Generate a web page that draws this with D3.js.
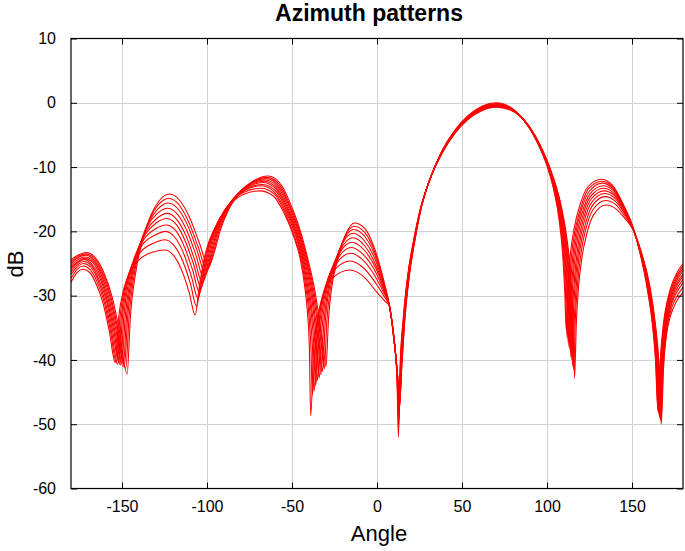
<!DOCTYPE html>
<html><head><meta charset="utf-8">
<script src="https://cdn.jsdelivr.net/npm/d3@7"></script>
<style>body{margin:0;background:#fff}svg{display:block}text{font-family:"Liberation Sans",Arial,sans-serif}</style>
</head><body><div id="chart"></div>
<script>
// ---- data: each row = one feature point, columns = the 10 pattern curves ----
const xTicks = [-150,-100,-50,0,50,100,150];
const yTicks = [10,0,-10,-20,-30,-40,-50,-60];

const lobeA_ang = [
 [-180,-180,-180,-180,-180,-180,-180,-180,-180,-180],
 [-175,-175.1,-175.2,-175.3,-175.4,-175.6,-175.7,-175.8,-175.9,-176],
 [-171,-171.2,-171.4,-171.7,-171.9,-172.1,-172.3,-172.6,-172.8,-173],
 [-166,-166.3,-166.7,-167,-167.3,-167.7,-168,-168.3,-168.7,-169],
 [-161,-161.4,-161.9,-162.3,-162.8,-163.2,-163.7,-164.1,-164.6,-165],
 [-156,-156.6,-157.1,-157.7,-158.2,-158.8,-159.3,-159.9,-160.4,-161],
 [-151.5,-152.2,-152.8,-153.5,-154.2,-154.8,-155.5,-156.2,-156.8,-157.5],
 [-147,-147.8,-148.6,-149.3,-150.1,-150.9,-151.7,-152.4,-153.2,-154]
];
const lobeA_db = [
 [-24.4,-24.7,-25.0,-25.3,-25.6,-25.9,-26.3,-26.7,-27.3,-27.9],
 [-23.6,-23.8,-24.0,-24.3,-24.6,-24.8,-25.1,-25.4,-25.8,-26.3],
 [-23.3,-23.5,-23.7,-24.0,-24.2,-24.4,-24.7,-25.0,-25.4,-25.9],
 [-24.0,-24.2,-24.4,-24.6,-24.8,-25.1,-25.3,-25.6,-26.0,-26.4],
 [-26.2,-26.4,-26.5,-26.7,-26.9,-27.1,-27.4,-27.6,-27.9,-28.3],
 [-30.0,-30.1,-30.2,-30.3,-30.5,-30.6,-30.7,-30.9,-31.1,-31.3],
 [-35.5,-35.5,-35.5,-35.5,-35.5,-35.5,-35.5,-35.5,-35.5,-35.5],
 [-42.2,-41.3,-40.9,-41.1,-40.6,-40.8,-40.4,-40.7,-40.5,-40.4]
];
const lobeB_ang = [
 [-145,-145.8,-146.6,-147.3,-148.1,-148.9,-149.7,-150.4,-151.2,-152],
 [-142,-142.8,-143.6,-144.3,-145.1,-145.9,-146.7,-147.4,-148.2,-149],
 [-138,-138.8,-139.6,-140.3,-141.1,-141.9,-142.7,-143.4,-144.2,-145],
 [-133,-133.7,-134.3,-135,-135.7,-136.3,-137,-137.7,-138.3,-139],
 [-128,-128.4,-128.8,-129.2,-129.6,-129.9,-130.3,-130.7,-131.1,-131.5],
 [-122,-122.3,-122.7,-123,-123.3,-123.7,-124,-124.3,-124.7,-125],
 [-116,-116.4,-116.8,-117.2,-117.6,-117.9,-118.3,-118.7,-119.1,-119.5],
 [-110,-110.5,-111,-111.5,-112,-112.5,-113,-113.5,-114,-114.5],
 [-104.5,-105.2,-105.8,-106.5,-107.2,-107.8,-108.5,-109.2,-109.8,-110.5],
 [-99,-99.9,-100.8,-101.7,-102.6,-103.4,-104.3,-105.2,-106.1,-107]
];
const lobeB_db = [
 [-33.0,-33.1,-33.1,-33.1,-33.2,-33.2,-33.3,-33.3,-33.4,-33.5],
 [-26.5,-26.7,-26.9,-27.1,-27.4,-27.6,-27.9,-28.2,-28.6,-29.0],
 [-21.5,-21.9,-22.3,-22.7,-23.2,-23.6,-24.1,-24.7,-25.4,-26.2],
 [-17.5,-18.0,-18.6,-19.2,-19.9,-20.5,-21.2,-22.0,-23.0,-24.2],
 [-15.2,-15.8,-16.5,-17.2,-18.0,-18.7,-19.6,-20.6,-21.8,-23.2],
 [-14.2,-14.9,-15.6,-16.4,-17.2,-18.0,-19.0,-20.0,-21.3,-22.9],
 [-15.2,-15.9,-16.6,-17.4,-18.2,-19.0,-19.9,-21.0,-22.3,-23.8],
 [-18.0,-18.7,-19.3,-20.1,-20.9,-21.7,-22.6,-23.6,-24.8,-26.3],
 [-21.8,-22.4,-23.0,-23.7,-24.5,-25.2,-26.0,-27.0,-28.1,-29.5],
 [-25.5,-26.1,-26.7,-27.4,-28.1,-28.8,-29.6,-30.5,-31.7,-33.0]
];
const lobeC_ang = [
 [-96,-96.9,-97.9,-98.8,-99.8,-100.7,-101.7,-102.6,-103.6,-104.5],
 [-92,-93,-94,-95,-96,-97,-98,-99,-100,-101],
 [-87,-87.9,-88.8,-89.7,-90.6,-91.4,-92.3,-93.2,-94.1,-95],
 [-80,-80.8,-81.6,-82.3,-83.1,-83.9,-84.7,-85.4,-86.2,-87],
 [-73,-73.7,-74.3,-75,-75.7,-76.3,-77,-77.7,-78.3,-79],
 [-64,-64.6,-65.1,-65.7,-66.2,-66.8,-67.3,-67.9,-68.4,-69],
 [-56,-56.6,-57.1,-57.7,-58.2,-58.8,-59.3,-59.9,-60.4,-61],
 [-50,-50.6,-51.1,-51.7,-52.2,-52.8,-53.3,-53.9,-54.4,-55],
 [-45,-45.4,-45.9,-46.3,-46.8,-47.2,-47.7,-48.1,-48.6,-49],
 [-40.5,-41,-41.5,-42,-42.5,-43,-43.5,-44,-44.5,-45],
 [-37,-37.6,-38.2,-38.8,-39.4,-40.1,-40.7,-41.3,-41.9,-42.5],
 [-34,-34.8,-35.5,-36.3,-37,-37.8,-38.5,-39.3,-40,-40.8],
 [-31.8,-32.7,-33.6,-34.5,-35.4,-36.2,-37.1,-38,-38.9,-39.8],
 [-30,-31,-32,-33,-34,-35,-36,-37,-38,-39]
];
const lobeC_db = [
 [-23.5,-23.9,-24.3,-24.8,-25.3,-25.7,-26.3,-26.9,-27.6,-28.5],
 [-19.7,-20.0,-20.3,-20.7,-21.0,-21.4,-21.8,-22.3,-22.8,-23.5],
 [-16.5,-16.7,-17.0,-17.2,-17.5,-17.7,-18.0,-18.4,-18.8,-19.3],
 [-13.7,-13.9,-14.1,-14.3,-14.5,-14.7,-15.0,-15.2,-15.6,-16.0],
 [-12.2,-12.4,-12.5,-12.7,-12.9,-13.1,-13.4,-13.6,-13.9,-14.3],
 [-11.4,-11.6,-11.8,-12.0,-12.2,-12.4,-12.7,-12.9,-13.3,-13.7],
 [-12.9,-13.0,-13.2,-13.3,-13.5,-13.6,-13.8,-14.0,-14.2,-14.5],
 [-16.3,-16.4,-16.4,-16.5,-16.6,-16.6,-16.7,-16.8,-16.9,-17.0],
 [-20.0,-20.1,-20.1,-20.2,-20.3,-20.4,-20.4,-20.5,-20.7,-20.8],
 [-24.5,-24.5,-24.5,-24.5,-24.5,-24.5,-24.5,-24.5,-24.5,-24.5],
 [-28.6,-28.6,-28.6,-28.6,-28.6,-28.6,-28.6,-28.6,-28.6,-28.6],
 [-33.5,-33.4,-33.4,-33.4,-33.3,-33.3,-33.2,-33.2,-33.1,-33.0],
 [-37.5,-37.6,-37.6,-37.6,-37.7,-37.7,-37.8,-37.8,-37.9,-38.0],
 [-41.0,-41.4,-41.8,-42.3,-42.8,-43.2,-44.0,-44.8,-45.5,-48.7]
];
const lobeD_ang = [
 [-28.5,-29.5,-30.5,-31.4,-32.4,-33.4,-34.4,-35.3,-36.3,-37.3],
 [-26.5,-27.4,-28.4,-29.3,-30.3,-31.2,-32.2,-33.1,-34.1,-35],
 [-23,-23.9,-24.9,-25.8,-26.8,-27.7,-28.7,-29.6,-30.6,-31.5],
 [-18.5,-19.2,-19.9,-20.7,-21.4,-22.1,-22.8,-23.6,-24.3,-25],
 [-13.2,-13.5,-13.8,-14.1,-14.4,-14.8,-15.1,-15.4,-15.7,-16],
 [-7,-7.1,-7.2,-7.3,-7.4,-7.6,-7.7,-7.8,-7.9,-8],
 [-1,-0.9,-0.8,-0.7,-0.6,-0.4,-0.3,-0.2,-0.1,0],
 [4,4.1,4.1,4.2,4.2,4.3,4.3,4.4,4.4,4.5],
 [7.4,7.4,7.4,7.4,7.4,7.4,7.4,7.4,7.4,7.4],
 [10.2,10.2,10.1,10.1,10,10,9.9,9.9,9.8,9.8],
 [12.2,12.1,12.1,12,12,11.9,11.9,11.8,11.8,11.7],
 [13.5,13.4,13.3,13.2,13.1,13,12.9,12.8,12.7,12.6]
];
const lobeD_db = [
 [-33.5,-33.9,-34.3,-34.8,-35.3,-35.7,-36.3,-36.9,-37.6,-38.5],
 [-28.5,-28.9,-29.3,-29.8,-30.3,-30.7,-31.3,-31.9,-32.6,-33.5],
 [-24.3,-24.7,-25.2,-25.7,-26.2,-26.7,-27.3,-28.0,-28.8,-29.8],
 [-20.5,-21.0,-21.5,-22.1,-22.8,-23.4,-24.1,-24.9,-25.8,-27.0],
 [-18.7,-19.2,-19.7,-20.3,-21.0,-21.7,-22.5,-23.4,-24.6,-26.0],
 [-19.6,-20.2,-20.8,-21.5,-22.2,-22.9,-23.7,-24.6,-25.7,-27.0],
 [-23.0,-23.5,-24.0,-24.6,-25.3,-25.9,-26.6,-27.4,-28.3,-29.5],
 [-27.7,-28.0,-28.2,-28.5,-28.8,-29.1,-29.4,-29.8,-30.2,-30.8],
 [-31.7,-31.7,-31.7,-31.7,-31.7,-31.7,-31.7,-31.7,-31.7,-31.7],
 [-37.0,-36.9,-36.9,-36.8,-36.8,-36.7,-36.7,-36.6,-36.6,-36.5],
 [-42.5,-42.5,-42.5,-42.5,-42.5,-42.5,-42.5,-42.5,-42.5,-42.5],
 [-46.0,-46.5,-47.0,-47.5,-48.0,-48.5,-49.0,-49.5,-50.5,-52.0]
];
const mainLobe_ang = [
 [14.6,14.5,14.4,14.3,14.2,14,13.9,13.8,13.7,13.6],
 [16.3,16.2,16.1,16,15.9,15.7,15.6,15.5,15.4,15.3],
 [19,18.9,18.8,18.7,18.6,18.4,18.3,18.2,18.1,18],
 [22.4,22.3,22.2,22.1,22,22,21.9,21.8,21.7,21.6],
 [26,25.9,25.9,25.8,25.7,25.7,25.6,25.5,25.5,25.4],
 [31,31,30.9,30.9,30.8,30.8,30.7,30.7,30.6,30.6],
 [38,38,38,38,38,38,38,38,38,38],
 [46,46,46,46,46,46,46,46,46,46],
 [54,54,54,54,54,54,54,54,54,54],
 [62,62,62,62,62,62,62,62,62,62],
 [70,70,70,70,70,70,70,70,70,70],
 [78,78,78,78,78,78,78,78,78,78],
 [86,86.1,86.2,86.3,86.4,86.6,86.7,86.8,86.9,87],
 [94,94.2,94.4,94.7,94.9,95.1,95.3,95.6,95.8,96],
 [100,100.3,100.7,101,101.3,101.7,102,102.3,102.7,103],
 [104,104.4,104.9,105.3,105.8,106.2,106.7,107.1,107.6,108],
 [107,107.5,108,108.5,109,109.5,110,110.5,111,111.5],
 [109.2,109.7,110.3,110.8,111.3,111.9,112.4,112.9,113.5,114],
 [110.4,110.9,111.5,112,112.6,113.1,113.7,114.2,114.8,115.3],
 [111.3,111.8,112.4,112.9,113.5,114,114.6,115.1,115.7,116.2]
];
const mainLobe_db = [
 [-41,-41,-41,-41,-41,-41,-41,-41,-41,-41],
 [-34,-34,-34,-34,-34,-34,-34,-34,-34,-34],
 [-27,-27,-27,-27,-27,-27,-27,-27,-27,-27],
 [-21.3,-21.3,-21.3,-21.3,-21.3,-21.3,-21.3,-21.3,-21.3,-21.3],
 [-16.4,-16.4,-16.4,-16.5,-16.5,-16.5,-16.5,-16.6,-16.6,-16.6],
 [-12.0,-12.0,-12.0,-12.1,-12.1,-12.1,-12.2,-12.2,-12.3,-12.3],
 [-7.6,-7.6,-7.7,-7.7,-7.7,-7.8,-7.8,-7.9,-7.9,-8.0],
 [-4.2,-4.3,-4.3,-4.4,-4.4,-4.5,-4.5,-4.6,-4.6,-4.7],
 [-1.9,-2.0,-2.0,-2.1,-2.1,-2.2,-2.2,-2.3,-2.4,-2.5],
 [-0.5,-0.6,-0.7,-0.7,-0.8,-0.9,-0.9,-1.0,-1.1,-1.2],
 [0,-0.1,-0.2,-0.2,-0.3,-0.4,-0.5,-0.5,-0.6,-0.7],
 [-0.6,-0.7,-0.7,-0.8,-0.8,-0.9,-0.9,-1.0,-1.0,-1.1],
 [-2.6,-2.6,-2.6,-2.7,-2.7,-2.7,-2.7,-2.8,-2.8,-2.8],
 [-6.0,-6.1,-6.1,-6.2,-6.3,-6.3,-6.4,-6.5,-6.5,-6.6],
 [-9.8,-9.9,-10.1,-10.2,-10.4,-10.5,-10.6,-10.8,-10.9,-11.1],
 [-13.6,-13.8,-14.0,-14.3,-14.5,-14.7,-14.9,-15.2,-15.4,-15.6],
 [-18.0,-18.3,-18.6,-18.9,-19.2,-19.5,-19.8,-20.1,-20.4,-20.7],
 [-23.5,-23.9,-24.3,-24.7,-25.1,-25.4,-25.8,-26.2,-26.6,-27.0],
 [-29.0,-29.5,-30.0,-30.5,-31.0,-31.5,-32.0,-32.5,-33.0,-33.5],
 [-35.3,-36.5,-37.2,-38.0,-38.5,-39.5,-40.0,-41.0,-41.5,-42.8]
];
const lobeF_ang = [
 [112.3,112.9,113.4,114,114.5,115.1,115.6,116.2,116.7,117.3],
 [113.8,114.3,114.9,115.4,115.9,116.5,117,117.5,118.1,118.6],
 [116,116.5,117,117.5,118,118.6,119.1,119.6,120.1,120.6],
 [119.5,120,120.4,120.9,121.3,121.8,122.2,122.7,123.1,123.6],
 [124,124.4,124.8,125.2,125.6,125.9,126.3,126.7,127.1,127.5],
 [131.9,132.2,132.5,132.9,133.2,133.5,133.8,134.2,134.5,134.8],
 [138.5,138.7,138.9,139.2,139.4,139.6,139.8,140.1,140.3,140.5],
 [144.5,144.6,144.7,144.8,144.9,145.1,145.2,145.3,145.4,145.5],
 [150.5,150.5,150.5,150.5,150.5,150.5,150.5,150.5,150.5,150.5],
 [155,155.1,155.2,155.3,155.4,155.6,155.7,155.8,155.9,156],
 [159,159.2,159.3,159.5,159.7,159.8,160,160.2,160.3,160.5],
 [162,162.2,162.4,162.6,162.8,163,163.2,163.4,163.6,163.8],
 [163.8,164,164.2,164.5,164.7,164.9,165.1,165.4,165.6,165.8],
 [165.2,165.4,165.6,165.9,166.1,166.3,166.5,166.8,167,167.2]
];
const lobeF_db = [
 [-29.0,-29.6,-30.1,-30.7,-31.2,-31.8,-32.3,-32.9,-33.4,-34.0],
 [-23.5,-24.1,-24.6,-25.2,-25.7,-26.3,-26.8,-27.4,-27.9,-28.5],
 [-19.5,-19.9,-20.2,-20.6,-21.1,-21.5,-22.0,-22.5,-23.2,-24.0],
 [-15.8,-16.2,-16.5,-16.9,-17.3,-17.7,-18.2,-18.8,-19.4,-20.2],
 [-13.1,-13.4,-13.8,-14.2,-14.6,-15.0,-15.5,-16.0,-16.6,-17.4],
 [-11.9,-12.2,-12.5,-12.9,-13.3,-13.7,-14.1,-14.6,-15.2,-15.9],
 [-12.8,-13.1,-13.4,-13.7,-14.1,-14.4,-14.8,-15.3,-15.8,-16.5],
 [-15.6,-15.8,-16.0,-16.2,-16.4,-16.6,-16.9,-17.1,-17.5,-17.9],
 [-19.3,-19.3,-19.4,-19.4,-19.4,-19.5,-19.5,-19.6,-19.6,-19.7],
 [-23.7,-23.7,-23.7,-23.7,-23.7,-23.7,-23.7,-23.7,-23.7,-23.7],
 [-29.0,-28.9,-28.9,-28.8,-28.8,-28.7,-28.7,-28.6,-28.6,-28.5],
 [-34.5,-34.5,-34.5,-34.5,-34.5,-34.5,-34.5,-34.5,-34.5,-34.5],
 [-40.0,-40.1,-40.1,-40.2,-40.2,-40.3,-40.3,-40.4,-40.4,-40.5],
 [-47.7,-48.2,-48.0,-48.6,-48.4,-49.0,-48.8,-49.4,-49.2,-50.0]
];
const lobeG_ang = [
 [166.6,166.8,167,167.3,167.5,167.7,167.9,168.2,168.4,168.6],
 [168.4,168.6,168.8,169,169.2,169.4,169.6,169.8,170,170.2],
 [171,171.2,171.4,171.5,171.7,171.9,172.1,172.2,172.4,172.6],
 [174.5,174.7,174.8,175,175.2,175.3,175.5,175.7,175.8,176],
 [180,180,180,180,180,180,180,180,180,180]
];
const lobeG_db = [
 [-40.0,-40.1,-40.2,-40.3,-40.4,-40.6,-40.7,-40.8,-40.9,-41.0],
 [-34.5,-34.7,-34.9,-35.1,-35.3,-35.5,-35.7,-35.9,-36.1,-36.3],
 [-30.5,-30.7,-30.9,-31.2,-31.5,-31.7,-32.0,-32.3,-32.7,-33.2],
 [-27.5,-27.8,-28.1,-28.4,-28.7,-29.0,-29.4,-29.8,-30.4,-31.0],
 [-25.0,-25.4,-25.7,-26.1,-26.6,-27.0,-27.5,-28.0,-28.7,-29.5]
];

// ---- build per-curve point tables ----
const lobes = [[lobeA_ang,lobeA_db],[lobeB_ang,lobeB_db],[lobeC_ang,lobeC_db],[lobeD_ang,lobeD_db],
               [mainLobe_ang,mainLobe_db],[lobeF_ang,lobeF_db],[lobeG_ang,lobeG_db]];
const nCurves = lobeA_ang[0].length;
const curves = d3.range(nCurves).map(i =>
  lobes.flatMap(([A, D]) => A.map((row, k) => ({a: row[i], v: D[k][i]}))));

// ---- layout ----
const W = 685, H = 551;
const m = {left: 71, right: 2, top: 38.5, bottom: 62.5};
const svg = d3.select("#chart").append("svg").attr("width", W).attr("height", H);
svg.append("rect").attr("width", W).attr("height", H).attr("fill", "#fff");

const x = d3.scaleLinear().domain([-180, 180]).range([m.left, W - m.right]);
const y = d3.scaleLinear().domain([-60, 10]).range([H - m.bottom, m.top]);
const x0 = m.left, x1 = W - m.right, y0 = m.top, y1 = H - m.bottom;

// grid
const g = svg.append("g");
g.selectAll(".gx").data(xTicks).join("line")
  .attr("x1", d => Math.round(x(d)) + 0.5).attr("x2", d => Math.round(x(d)) + 0.5)
  .attr("y1", y0).attr("y2", y1).attr("stroke", "#d2d2d2").attr("stroke-width", 1);
g.selectAll(".gy").data(yTicks.filter(d => d > -60 && d < 10)).join("line")
  .attr("y1", d => Math.round(y(d)) + 0.5).attr("y2", d => Math.round(y(d)) + 0.5)
  .attr("x1", x0).attr("x2", x1).attr("stroke", "#d2d2d2").attr("stroke-width", 1);

// curves
svg.append("clipPath").attr("id", "clip").append("rect")
  .attr("x", x0).attr("y", y0).attr("width", x1 - x0).attr("height", y1 - y0);
const line = d3.line().x(d => x(d.a)).y(d => y(d.v)).curve(d3.curveMonotoneX);
svg.append("g").attr("clip-path", "url(#clip)")
  .selectAll("path").data(curves).join("path")
  .attr("d", line).attr("fill", "none").attr("stroke", "#ff0000").attr("stroke-width", 1.1);

// axes (ticks inward on all four sides)
const tl = 6;
const axB = d3.axisBottom(x).tickValues(xTicks).tickSize(-tl).tickPadding(12).tickFormat(d3.format("d"));
const axT = d3.axisTop(x).tickValues(xTicks).tickSize(-tl).tickFormat("");
const axL = d3.axisLeft(y).tickValues(yTicks).tickSize(-tl).tickPadding(15).tickFormat(d3.format("d"));
const axR = d3.axisRight(y).tickValues(yTicks).tickSize(-tl).tickFormat("");
function style(sel){
  sel.select(".domain").remove();
  sel.selectAll(".tick line").attr("stroke", "#000").attr("stroke-width", 1);
  sel.selectAll(".tick text").attr("fill", "#000").attr("font-size", "16px")
     .attr("font-family", "'Liberation Sans', Arial, sans-serif");
}
svg.append("g").attr("transform", `translate(0,${y1})`).call(axB).call(style);
svg.append("g").attr("transform", `translate(0,${y0})`).call(axT).call(style);
svg.append("g").attr("transform", `translate(${x0},0)`).call(axL).call(style);
svg.append("g").attr("transform", `translate(${x1},0)`).call(axR).call(style);
svg.selectAll(".tick text").text(function(){ return this.textContent.replace("\u2212", "-"); });

// frame
svg.append("rect").attr("x", x0).attr("y", y0).attr("width", x1 - x0).attr("height", y1 - y0)
  .attr("fill", "none").attr("stroke", "#000").attr("stroke-width", 1.2);

// labels
svg.append("text").attr("x", 369).attr("y", 21).attr("text-anchor", "middle")
  .attr("font-size", "23px").attr("font-weight", "bold").text("Azimuth patterns");
svg.append("text").attr("x", 379).attr("y", 541).attr("text-anchor", "middle")
  .attr("font-size", "22px").text("Angle");
svg.append("text").attr("transform", "translate(23,264) rotate(-90)").attr("text-anchor", "middle")
  .attr("font-size", "22px").text("dB");
</script></body></html>
